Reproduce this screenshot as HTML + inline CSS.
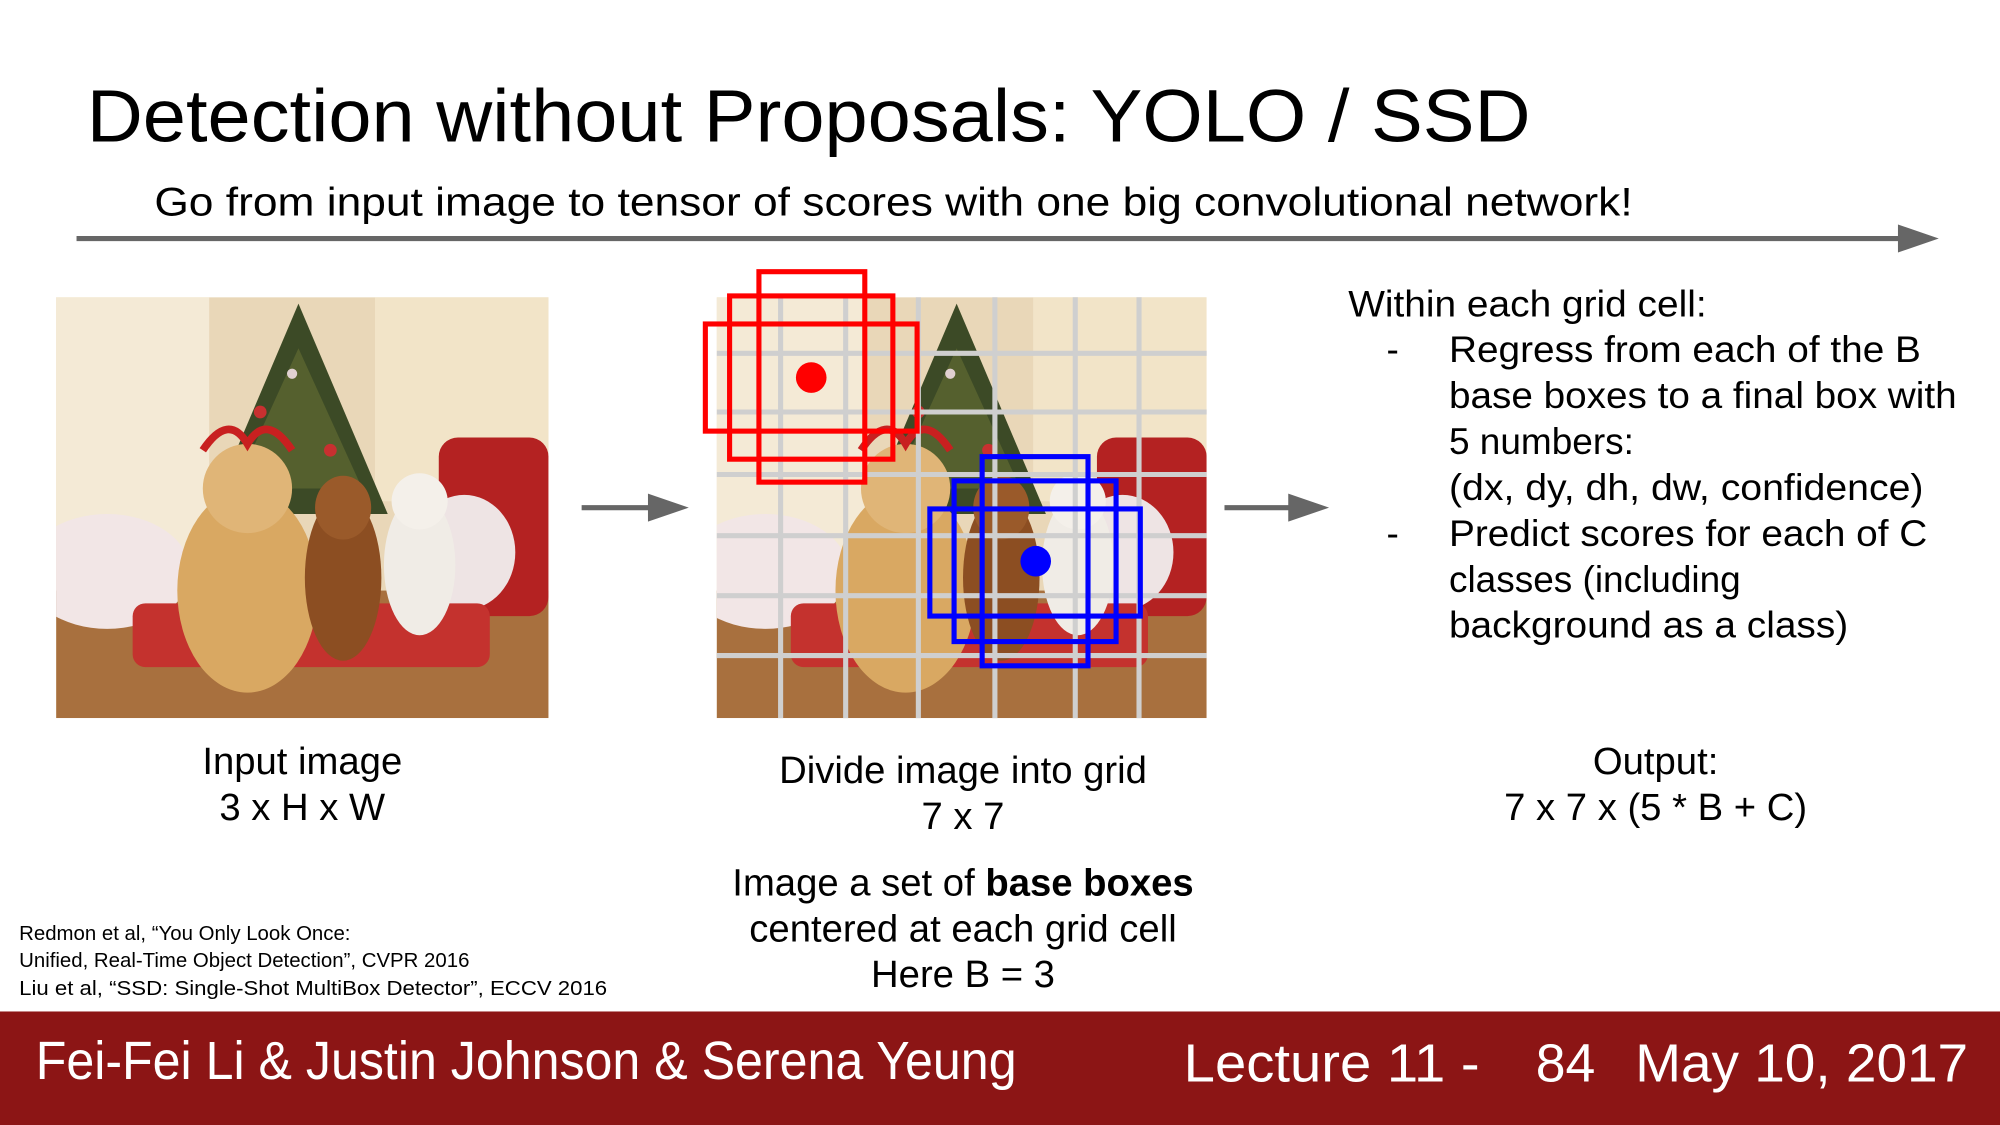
<!DOCTYPE html>
<html><head><meta charset="utf-8"><style>
html,body{margin:0;padding:0;background:#fff;}
svg{display:block;}
text{font-family:"Liberation Sans",Arial,sans-serif;fill:#000;}
.w{fill:#fff;}
</style></head><body>
<svg width="2000" height="1125" viewBox="0 0 1568 882" xmlns="http://www.w3.org/2000/svg">
<defs>
<clipPath id="c1"><rect x="44" y="233" width="386" height="330"/></clipPath>
<clipPath id="c2"><rect x="562" y="233" width="384" height="330"/></clipPath>
<g id="scene">
  <rect x="0" y="0" width="386" height="330" fill="#e9d7b8"/>
  <rect x="0" y="0" width="120" height="200" fill="#f4ead6"/>
  <rect x="250" y="0" width="136" height="160" fill="#f2e4c8"/>
  <rect x="0" y="230" width="386" height="100" fill="#a8703e"/>
  <polygon points="190,5 120,170 260,170" fill="#3c4a26"/>
  <polygon points="190,40 140,150 240,150" fill="#55602e"/>
  <circle cx="160" cy="90" r="5" fill="#c83030"/><circle cx="215" cy="120" r="5" fill="#c83030"/><circle cx="185" cy="60" r="4" fill="#e0d0d0"/>
  <rect x="300" y="110" width="86" height="140" rx="15" fill="#b42222"/>
  <ellipse cx="40" cy="215" rx="65" ry="45" fill="#f2e6e6"/>
  <ellipse cx="320" cy="200" rx="40" ry="45" fill="#eee4e4"/>
  <rect x="60" y="240" width="280" height="50" rx="10" fill="#c4322e"/>
  <ellipse cx="150" cy="230" rx="55" ry="80" fill="#d9a862"/>
  <ellipse cx="150" cy="150" rx="35" ry="35" fill="#e0b577"/>
  <ellipse cx="225" cy="220" rx="30" ry="65" fill="#8c4e22"/>
  <ellipse cx="225" cy="165" rx="22" ry="25" fill="#9a5a2a"/>
  <ellipse cx="285" cy="210" rx="28" ry="55" fill="#f0ece6"/>
  <ellipse cx="285" cy="160" rx="22" ry="22" fill="#f4f0ea"/>
  <path d="M115 120 q20 -30 35 -5 q15 -25 35 5" stroke="#c82020" stroke-width="6" fill="none"/>
</g>
</defs>

<text x="68" y="111" font-size="58" textLength="1132" lengthAdjust="spacingAndGlyphs">Detection without Proposals: YOLO / SSD</text>
<text x="121" y="169" font-size="31" textLength="1159" lengthAdjust="spacingAndGlyphs">Go from input image to tensor of scores with one big convolutional network!</text>
<line x1="60" y1="187" x2="1495" y2="187" stroke="#666" stroke-width="4"/>
<polygon points="1488,176 1520,187 1488,198" fill="#666"/>

<g clip-path="url(#c1)"><use href="#scene" x="44" y="233"/></g>

<line x1="456" y1="398" x2="515" y2="398" stroke="#666" stroke-width="4"/>
<polygon points="508,387 540,398 508,409" fill="#666"/>

<g clip-path="url(#c2)"><use href="#scene" x="560" y="233"/></g>
<g stroke="#cfcfcf" stroke-width="4">
  <line x1="612" y1="233" x2="612" y2="563"/><line x1="663" y1="233" x2="663" y2="563"/>
  <line x1="720" y1="233" x2="720" y2="563"/><line x1="780" y1="233" x2="780" y2="563"/>
  <line x1="843" y1="233" x2="843" y2="563"/><line x1="893" y1="233" x2="893" y2="563"/>
  <line x1="562" y1="277" x2="946" y2="277"/><line x1="562" y1="323" x2="946" y2="323"/>
  <line x1="562" y1="372" x2="946" y2="372"/><line x1="562" y1="420" x2="946" y2="420"/>
  <line x1="562" y1="467" x2="946" y2="467"/><line x1="562" y1="514" x2="946" y2="514"/>
</g>
<g fill="none" stroke="#f00" stroke-width="4">
  <rect x="595" y="213" width="83" height="165"/>
  <rect x="572" y="232" width="128" height="128"/>
  <rect x="553" y="254" width="166" height="84"/>
</g>
<circle cx="636" cy="296" r="12" fill="#f00"/>
<g fill="none" stroke="#00f" stroke-width="4">
  <rect x="770" y="358" width="83" height="164"/>
  <rect x="748" y="377" width="127" height="126"/>
  <rect x="729" y="399" width="165" height="84"/>
</g>
<circle cx="812" cy="440" r="12" fill="#00f"/>

<line x1="960" y1="398" x2="1017" y2="398" stroke="#666" stroke-width="4"/>
<polygon points="1010,387 1042,398 1010,409" fill="#666"/>

<g font-size="29">
<text x="1057" y="248" textLength="281" lengthAdjust="spacingAndGlyphs">Within each grid cell:</text>
<text x="1087" y="284">-</text>
<text x="1136" y="284" textLength="370" lengthAdjust="spacingAndGlyphs">Regress from each of the B</text>
<text x="1136" y="320" textLength="398" lengthAdjust="spacingAndGlyphs">base boxes to a final box with</text>
<text x="1136" y="356">5 numbers:</text>
<text x="1136" y="392" textLength="372" lengthAdjust="spacingAndGlyphs">(dx, dy, dh, dw, confidence)</text>
<text x="1087" y="428">-</text>
<text x="1136" y="428" textLength="375" lengthAdjust="spacingAndGlyphs">Predict scores for each of C</text>
<text x="1136" y="464">classes (including</text>
<text x="1136" y="500" textLength="313" lengthAdjust="spacingAndGlyphs">background as a class)</text>
</g>

<g font-size="30" text-anchor="middle">
<text x="237" y="607">Input image</text>
<text x="237" y="643">3 x H x W</text>
<text x="755" y="614">Divide image into grid</text>
<text x="755" y="650">7 x 7</text>
<text x="755" y="702">Image a set of <tspan font-weight="bold">base boxes</tspan></text>
<text x="755" y="738">centered at each grid cell</text>
<text x="755" y="774">Here B = 3</text>
<text x="1298" y="607">Output:</text>
<text x="1298" y="643">7 x 7 x (5 * B + C)</text>
</g>

<g font-size="16">
<text x="15" y="737">Redmon et al, “You Only Look Once:</text>
<text x="15" y="758">Unified, Real-Time Object Detection”, CVPR 2016</text>
<text x="15" y="780" textLength="461" lengthAdjust="spacingAndGlyphs">Liu et al, “SSD: Single-Shot MultiBox Detector”, ECCV 2016</text>
</g>

<rect x="0" y="793" width="1568" height="89" fill="#8c1515"/>
<g font-size="42">
<text class="w" x="28" y="846" textLength="769" lengthAdjust="spacingAndGlyphs">Fei-Fei Li &amp; Justin Johnson &amp; Serena Yeung</text>
<text class="w" x="928" y="848" textLength="232" lengthAdjust="spacingAndGlyphs">Lecture 11 -</text>
<text class="w" x="1204" y="848">84</text>
<text class="w" x="1282" y="848" textLength="261" lengthAdjust="spacingAndGlyphs">May 10, 2017</text>
</g>
</svg>
</body></html>
